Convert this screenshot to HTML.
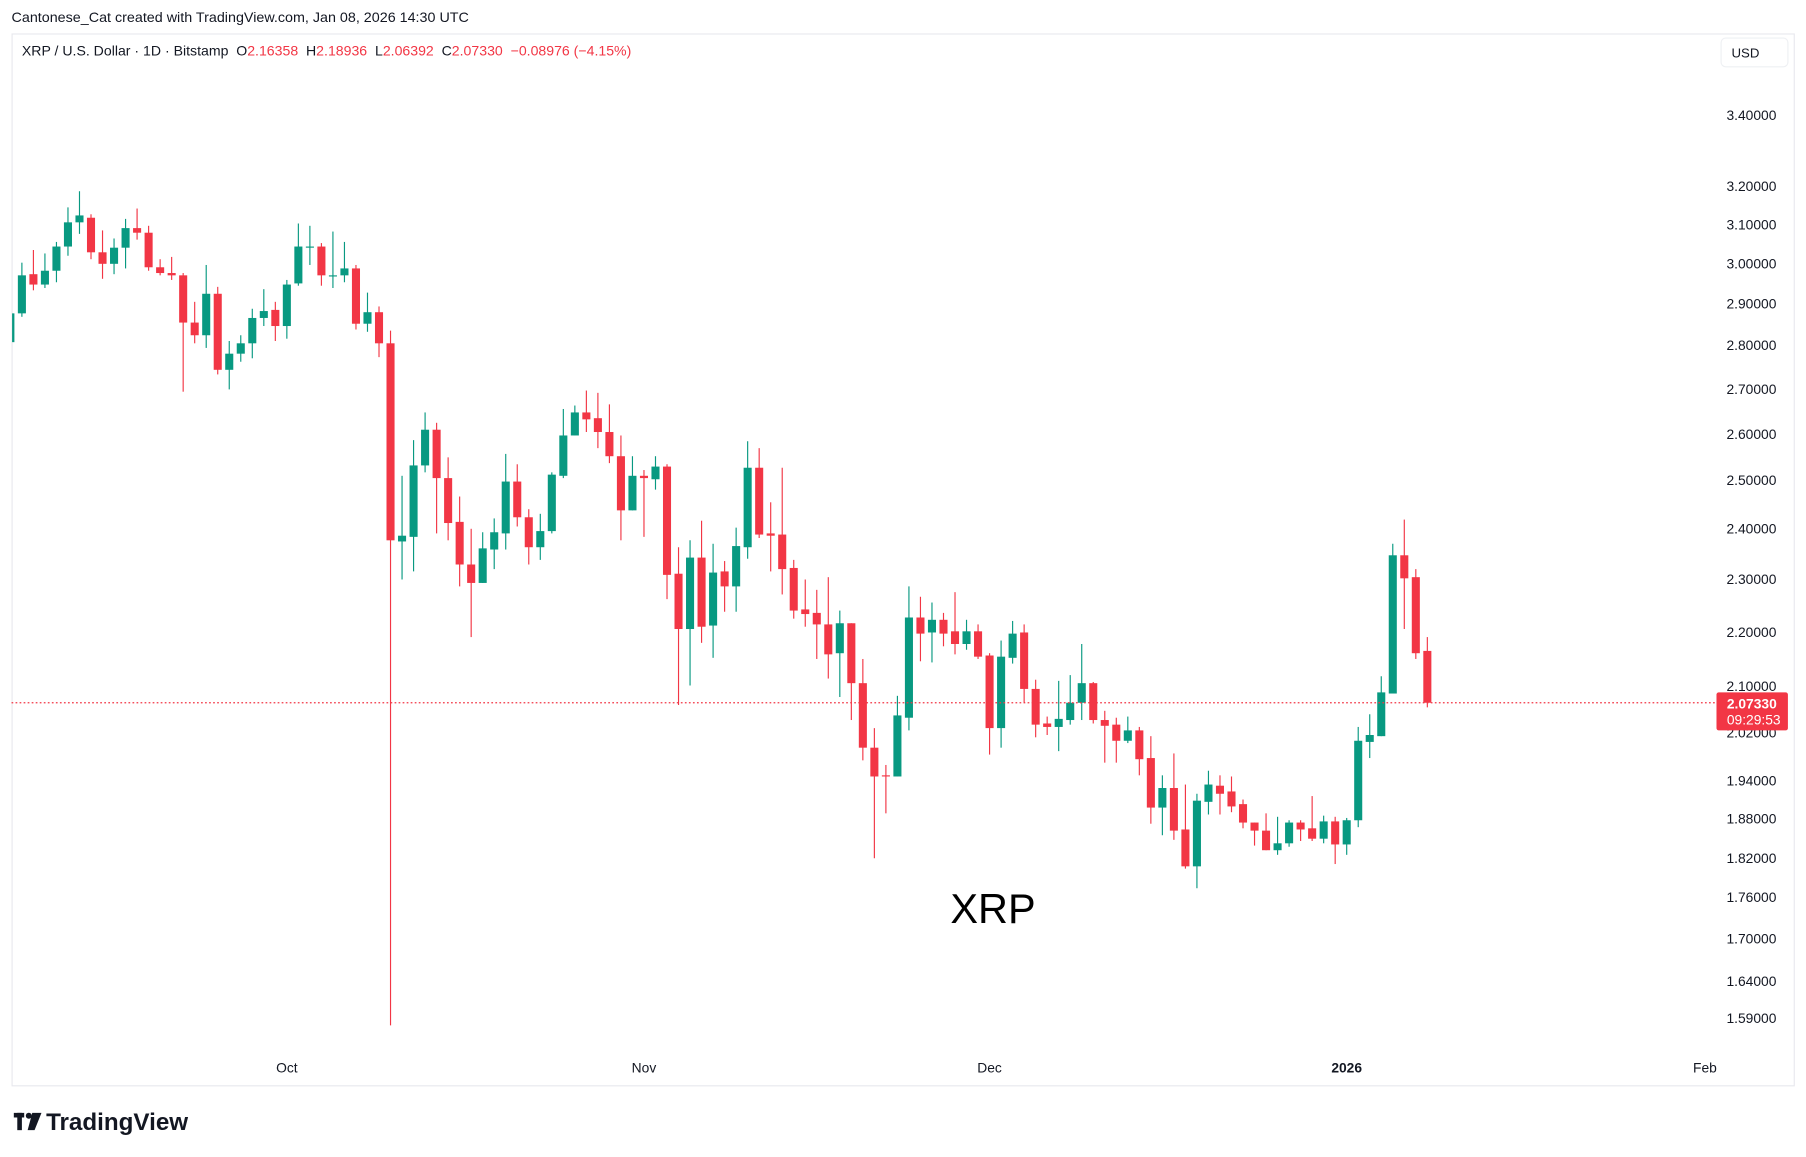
<!DOCTYPE html>
<html><head><meta charset="utf-8"><style>
html,body{margin:0;padding:0;background:#fff;width:1806px;height:1157px;overflow:hidden}
svg{display:block}
text{font-family:"Liberation Sans","DejaVu Sans",sans-serif}
</style></head><body>
<svg id="s" width="1806" height="1157" viewBox="0 0 1567.7 1004.3" preserveAspectRatio="none" xmlns="http://www.w3.org/2000/svg">
<rect x="0" y="0" width="1567.7" height="1004.3" fill="#fff"/>
<text x="10" y="19" font-size="12.3" fill="#131722" textLength="397" lengthAdjust="spacingAndGlyphs">Cantonese_Cat created with TradingView.com, Jan 08, 2026 14:30 UTC</text>
<rect x="10.5" y="29.5" width="1547" height="913" fill="#fff" stroke="#e8e9ee" stroke-width="1"/>
<text x="19" y="48" font-size="12.3" fill="#131722" xml:space="preserve" textLength="529" lengthAdjust="spacingAndGlyphs">XRP / U.S. Dollar · 1D · Bitstamp  O<tspan fill="#f23645">2.16358</tspan>  H<tspan fill="#f23645">2.18936</tspan>  L<tspan fill="#f23645">2.06392</tspan>  C<tspan fill="#f23645">2.07330</tspan>  <tspan fill="#f23645">−0.08976 (−4.15%)</tspan></text>
<rect x="1494" y="33" width="58" height="25" rx="4" fill="#fff" stroke="#eef0f3"/>
<text x="1503" y="50" font-size="11.5" fill="#131722">USD</text>
<g id="ax" font-size="12" fill="#131722"></g>
<g id="c"></g>
<line x1="10" y1="610" x2="1490" y2="610" stroke="#f23645" stroke-width="1" stroke-dasharray="1.5,2"/>
<rect x="1490" y="601" width="62" height="33" rx="2" fill="#f23645"/>
<text x="1499" y="615" font-size="12" fill="#fff" font-weight="bold">2.07330</text>
<text x="1499" y="629" font-size="12" fill="#fff">09:29:53</text>
<text x="862" y="801" font-size="36" fill="#000" text-anchor="middle">XRP</text>
<g font-size="12" fill="#131722" text-anchor="middle">
<text x="249" y="931">Oct</text><text x="559" y="931">Nov</text><text x="859" y="931">Dec</text>
<text x="1169" y="931" font-weight="bold">2026</text><text x="1480" y="931">Feb</text>
</g>
<g fill="#131722">
<rect x="12" y="966" width="9" height="4"/><rect x="15" y="966" width="4" height="15"/>
<circle cx="25" cy="968.5" r="2.6"/>
<polygon points="28,966 36,966 30,981 24,981"/>
</g>
<text x="40" y="981" font-size="21" font-weight="bold" fill="#131722">TradingView</text>
</svg>
<script>
var ax=[[3.4,100],[3.2,162],[3.1,195],[3.0,229],[2.9,264],[2.8,300],[2.7,338],[2.6,377],[2.5,417],[2.4,459],[2.3,503],[2.2,549],[2.1,596],[2.02,636],[1.94,678],[1.88,711],[1.82,745],[1.76,779],[1.70,815],[1.64,852],[1.59,884]];
var g=document.getElementById('ax'),h='';
ax.forEach(function(a){h+='<text x="1542" y="'+(a[1]+4)+'" text-anchor="end">'+a[0].toFixed(5)+'</text>';});
g.innerHTML=h;
var d=[
[270,272,297,300,'g'],[228,239,272,275,'g'],[217,238,247,252,'r'],[220,235,247,250,'g'],[210,214,235,245,'g'],[180,193,214,222,'g'],[166,187,193,203,'g'],[186,189,219,225,'r'],[200,219,229,242,'r'],[207,215,229,238,'g'],
[190,198,215,233,'g'],[181,198,202,208,'r'],[196,202,232,235,'r'],[225,232,237,239,'r'],[223,237,239,243,'r'],[237,239,280,340,'r'],[262,280,291,298,'r'],[230,255,291,302,'g'],[249,255,321,325,'r'],[296,307,321,338,'g'],
[291,298,307,314,'g'],[268,276,298,311,'g'],[251,270,276,283,'g'],[262,269,283,296,'r'],[243,247,283,294,'g'],[194,214,246,248,'g'],[196,214,215,230,'g'],[211,214,239,248,'r'],[201,239,240,250,'g'],[210,233,239,245,'g'],
[230,233,281,286,'r'],[254,271,281,288,'g'],[266,271,298,310,'r'],[287,298,469,890,'r'],[413,465,470,503,'g'],[382,404,466,496,'g'],[358,373,404,410,'g'],[367,373,415,463,'r'],[397,415,454,469,'r'],[431,453,490,509,'r'],
[459,490,506,553,'r'],[462,476,506,506,'g'],[450,462,477,494,'g'],[394,418,463,477,'g'],[403,418,449,457,'r'],[442,449,475,490,'r'],[446,461,475,486,'g'],[410,412,461,463,'g'],[355,378,413,415,'g'],[352,358,378,378,'g'],
[339,358,364,375,'r'],[341,363,375,389,'r'],[351,375,396,402,'r'],[378,396,443,469,'r'],[396,413,443,443,'g'],[408,413,415,466,'r'],[396,405,416,425,'g'],[403,405,499,520,'r'],[475,498,546,612,'r'],[469,484,546,595,'g'],
[452,484,544,558,'r'],[472,497,543,571,'g'],[487,496,509,531,'r'],[458,474,509,531,'g'],[383,406,475,485,'g'],[389,406,464,467,'r'],[436,463,465,496,'r'],[406,464,494,516,'r'],[486,493,530,537,'r'],[503,529,533,544,'r'],
[512,532,542,572,'r'],[501,542,568,589,'r'],[530,541,567,605,'g'],[541,541,593,625,'r'],[572,593,649,660,'r'],[632,649,674,745,'r'],[664,673,674,706,'r'],[604,621,674,674,'g'],[509,536,623,634,'g'],[518,536,550,574,'r'],
[523,538,549,575,'g'],[532,538,550,561,'r'],[514,548,559,568,'r'],[538,548,559,564,'g'],[542,548,570,572,'r'],[567,569,632,655,'r'],[556,570,632,649,'g'],[539,550,571,576,'g'],[542,549,598,610,'r'],[590,598,629,640,'r'],
[622,628,631,638,'r'],[591,624,631,652,'g'],[586,610,625,629,'g'],[559,593,610,625,'g'],[592,593,625,628,'r'],[617,625,630,662,'r'],[623,629,643,662,'r'],[622,634,643,645,'g'],[631,634,659,673,'r'],[639,658,701,715,'r'],
[673,684,701,725,'g'],[654,684,721,729,'r'],[681,720,752,754,'r'],[689,695,752,771,'g'],[669,681,696,707,'g'],[673,682,689,707,'r'],[674,687,700,705,'r'],[694,698,714,719,'r'],[714,714,721,734,'r'],[706,721,738,738,'r'],
[709,732,738,742,'g'],[712,714,732,735,'g'],[712,714,720,730,'r'],[691,719,728,730,'r'],[708,713,728,732,'g'],[709,713,733,750,'r'],[710,712,733,742,'g'],[631,643,712,718,'g'],[620,638,644,658,'g'],[587,601,639,639,'g'],
[472,482,602,602,'g'],[451,482,502,546,'r'],[494,501,567,572,'r'],[553,565,610,614,'r']
];
var c='';
d.forEach(function(v,i){
 var x=9+10*i,col=v[4]=='g'?'#089981':'#f23645';
 var x0=Math.max(x-3.5,10.5),w=(x+3.5)-x0;
 if(x>=10.5) c+='<line x1="'+x+'" y1="'+v[0]+'" x2="'+x+'" y2="'+v[3]+'" stroke="'+col+'" stroke-width="1"/>';
 c+='<rect x="'+x0+'" y="'+v[1]+'" width="'+w+'" height="'+Math.max(v[2]-v[1],1)+'" fill="'+col+'"/>';
});
document.getElementById('c').innerHTML=c;
</script>
</body></html>
